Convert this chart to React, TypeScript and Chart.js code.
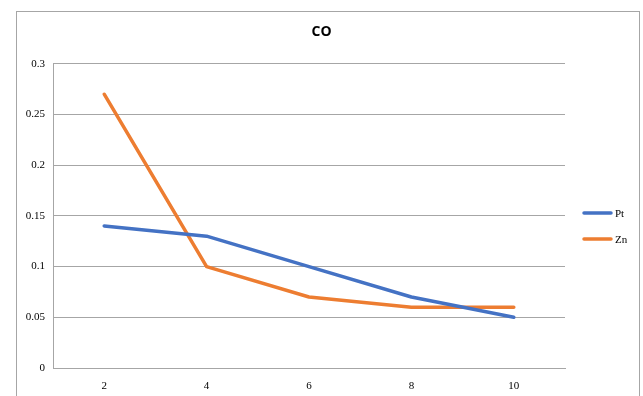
import React, { useEffect, useRef } from "react";
import { Chart, registerables } from "chart.js";

Chart.register(...registerables);

const categories = ["2", "4", "6", "8", "10"];
const ptValues = [0.14, 0.13, 0.1, 0.07, 0.05];
const znValues = [0.27, 0.1, 0.07, 0.06, 0.06];
const seriesNames = ["Pt", "Zn"];
const seriesColors = ["#4472C4", "#ED7D31"];
const chartTitle = "CO";

const GRID = "#a6a6a6";

// Outer frame and right-side legend drawn around the plot.
const framePlugin = {
  id: "frameAndLegend",
  beforeDraw(chart: any) {
    const { ctx } = chart;
    ctx.save();
    ctx.fillStyle = "#ffffff";
    ctx.fillRect(0, 0, chart.width, chart.height);
    ctx.strokeStyle = "#a6a6a6";
    ctx.lineWidth = 1;
    ctx.strokeRect(16.5, 11.5, 623, 420);
    ctx.restore();
  },
  afterDraw(chart: any) {
    const { ctx, chartArea } = chart;
    ctx.save();
    const x0 = chartArea.right + 19;
    const yMid = (chartArea.top + chartArea.bottom) / 2 + 10;
    chart.data.datasets.forEach((ds: any, i: number) => {
      const y = yMid - 13 + i * 26;
      ctx.strokeStyle = ds.borderColor;
      ctx.lineWidth = 3.5;
      ctx.lineCap = "round";
      ctx.beginPath();
      ctx.moveTo(x0, y);
      ctx.lineTo(x0 + 27, y);
      ctx.stroke();
      ctx.fillStyle = "#000";
      ctx.font = "11px 'Liberation Serif'";
      ctx.textBaseline = "middle";
      ctx.textAlign = "left";
      ctx.fillText(ds.label, x0 + 31, y + 1);
    });
    ctx.restore();
  },
};

export default function App() {
  const ref = useRef<HTMLCanvasElement | null>(null);

  useEffect(() => {
    if (!ref.current) return;
    const chart = new Chart(ref.current, {
      type: "line",
      data: {
        labels: categories,
        datasets: [ptValues, znValues].map((vals, i) => ({
          label: seriesNames[i],
          data: vals,
          borderColor: seriesColors[i],
          backgroundColor: seriesColors[i],
          borderWidth: 3.5,
          borderCapStyle: "round" as const,
          borderJoinStyle: "round" as const,
          pointRadius: 0,
          tension: 0,
          yAxisID: "y",
        })),
      },
      options: {
        responsive: false,
        animation: false,
        devicePixelRatio: 1,
        layout: { padding: { left: 16, right: 16, top: 0, bottom: 0 } },
        plugins: {
          legend: { display: false },
          tooltip: { enabled: false },
          title: {
            display: true,
            text: chartTitle,
            color: "#000",
            font: { family: "'Open Sans'", size: 14, weight: "bold" },
            padding: { top: 24, bottom: 23 },
          },
        },
        scales: {
          x: {
            offset: true,
            grid: { display: false, drawTicks: false },
            border: { color: GRID, width: 1 },
            ticks: {
              color: "#000",
              padding: 12,
              font: { family: "'Liberation Serif'", size: 11 },
              maxRotation: 0,
            },
            afterFit(scale: any) {
              scale.height = 28;
            },
          },
          y: {
            min: 0,
            max: 0.3,
            grid: { color: GRID, drawTicks: false },
            border: { color: GRID, width: 1 },
            ticks: {
              stepSize: 0.05,
              color: "#000",
              padding: 8,
              font: { family: "'Liberation Serif'", size: 11 },
              callback: (v: any) => String(Math.round(Number(v) * 100) / 100),
            },
            afterFit(scale: any) {
              scale.width = 37;
            },
          },
          // empty right-hand axis that reserves room for the legend
          legendSpace: {
            type: "linear",
            position: "right",
            display: true,
            grid: { display: false, drawTicks: false },
            border: { display: false },
            ticks: { display: false },
            afterFit(scale: any) {
              scale.width = 62;
            },
          },
        },
      },
      plugins: [framePlugin],
    });
    return () => chart.destroy();
  }, []);

  return (
    <div style={{ position: "fixed", left: 0, top: 0, width: 643, height: 396 }}>
      <canvas ref={ref} width={643} height={396} />
    </div>
  );
}
